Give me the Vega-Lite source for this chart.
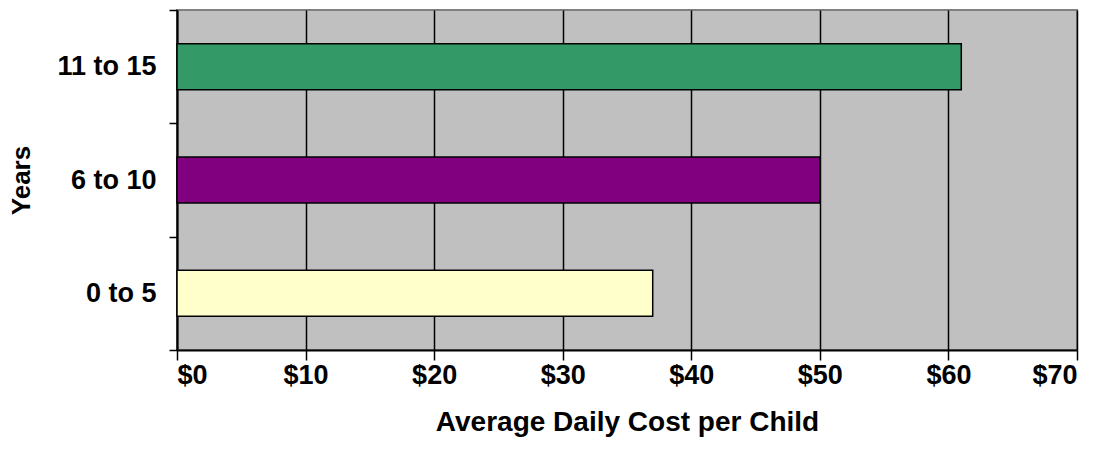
{
  "$schema": "https://vega.github.io/schema/vega-lite/v6.json",
  "autosize": {"type": "none"},
  "width": 900,
  "height": 340,
  "padding": {"left": 177, "top": 10, "right": 28, "bottom": 115},
  "background": "white",
  "config": {
    "font": "Liberation Sans",
    "view": {"stroke": "#808080", "strokeWidth": 2, "fill": "#C0C0C0"}
  },
  "data": {
    "values": [
      {"age": "11 to 15", "cost": 61, "color": "#339966"},
      {"age": "6 to 10", "cost": 50, "color": "#800080"},
      {"age": "0 to 5", "cost": 37, "color": "#FFFFCC"}
    ]
  },
  "mark": {"type": "bar", "size": 46, "stroke": "black", "strokeWidth": 1.5},
  "encoding": {
    "y": {
      "field": "age",
      "type": "nominal",
      "sort": ["11 to 15", "6 to 10", "0 to 5"],
      "scale": {"paddingInner": 0, "paddingOuter": 0},
      "axis": {
        "title": "Years",
        "titleFontSize": 26,
        "titleFontWeight": "bold",
        "titleColor": "black",
        "titlePadding": 22,
        "labelFontSize": 27,
        "labelFontWeight": "bold",
        "labelColor": "black",
        "labelPadding": 13,
        "tickBand": "extent",
        "tickSize": 8,
        "tickColor": "black",
        "tickWidth": 1.5,
        "domainColor": "black",
        "domainWidth": 2,
        "grid": false
      }
    },
    "x": {
      "field": "cost",
      "type": "quantitative",
      "scale": {"domain": [0, 70], "nice": false},
      "axis": {
        "title": "Average Daily Cost per Child",
        "titleFontSize": 28,
        "titleFontWeight": "bold",
        "titleColor": "black",
        "titlePadding": 20,
        "values": [0, 10, 20, 30, 40, 50, 60, 70],
        "format": "$.0f",
        "labelFontSize": 27,
        "labelFontWeight": "bold",
        "labelColor": "black",
        "labelPadding": 2,
        "tickSize": 10,
        "tickColor": "black",
        "tickWidth": 1.5,
        "domainColor": "black",
        "domainWidth": 2,
        "grid": true,
        "gridColor": "black",
        "gridWidth": 1.5,
        "gridOpacity": 1
      }
    },
    "color": {"field": "color", "type": "nominal", "scale": null, "legend": null}
  }
}
